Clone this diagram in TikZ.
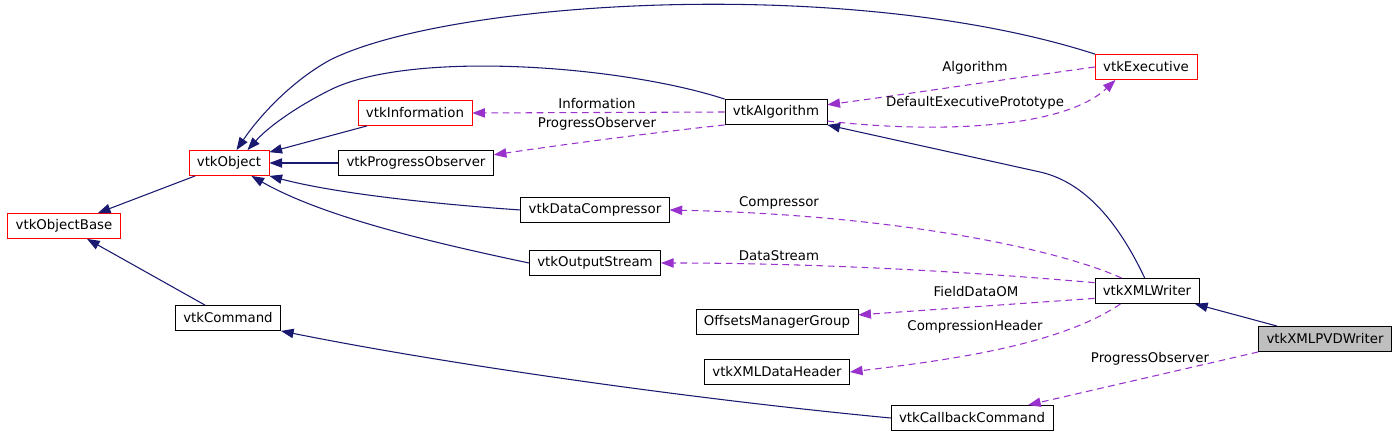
\documentclass[tikz,border=0pt]{standalone}
\usepackage{fontspec}
\setmainfont{DejaVu Sans}
\usetikzlibrary{arrows.meta}
\definecolor{EdgeBlue}{RGB}{25,25,112}
\definecolor{EdgePurple}{RGB}{153,50,204}
\definecolor{FocusGray}{RGB}{191,191,191}
\tikzset{
  cls/.style={draw=black,fill=white,minimum height=19pt,inner xsep=6pt,
    inner ysep=0pt,font=\fontsize{10}{12}\selectfont},
  redcls/.style={cls,draw=red},
  focus/.style={cls,fill=FocusGray},
  inherit/.style={-{Triangle[length=9.5pt,width=7pt]},EdgeBlue,line width=0.8pt},
  member/.style={-{Triangle[length=9.5pt,width=7pt]},EdgePurple,line width=0.8pt,
    dash pattern=on 5pt off 3.5pt},
  lbl/.style={font=\fontsize{10}{12}\selectfont,inner sep=1pt}
}
\begin{document}
\begin{tikzpicture}[x=0.75pt,y=-0.75pt]
\useasboundingbox (0,0) rectangle (1400,439);

\node[redcls] (base) at (64,226) {vtkObjectBase};
\node[redcls] (obj) at (229,163) {vtkObject};
\node[cls] (cmd) at (228,318) {vtkCommand};
\node[redcls] (info) at (415,113) {vtkInformation};
\node[cls] (prog) at (416,163) {vtkProgressObserver};
\node[cls] (comp) at (595,210) {vtkDataCompressor};
\node[cls] (ostr) at (595,263) {vtkOutputStream};
\node[cls] (omg) at (777,322) {OffsetsManagerGroup};
\node[cls] (hdr) at (777,372) {vtkXMLDataHeader};
\node[cls] (algo) at (776,112) {vtkAlgorithm};
\node[redcls] (exe) at (1146,67) {vtkExecutive};
\node[cls] (xmlw) at (1147,291) {vtkXMLWriter};
\node[cls] (cb) at (972,418) {vtkCallbackCommand};
\node[focus] (pvd) at (1325,339) {vtkXMLPVDWriter};

% base classes
\draw[inherit] (obj) -- (base);
\draw[inherit] (cmd) -- (base);
\draw[inherit] (info) -- (obj);
\draw[inherit] (prog) -- (obj);
\draw[inherit] (comp.west) .. controls (420,203) and (330,192) .. (obj.south east);
\draw[inherit] (ostr.west) .. controls (420,240) and (320,215) .. (obj.-30);
\draw[inherit] (algo.north west) .. controls (620,65) and (410,50) .. (330,90)
  .. controls (300,105) and (270,125) .. (obj.35);
\draw[inherit] (exe.north west) .. controls (850,-25) and (450,0) .. (330,60)
  .. controls (290,82) and (258,118) .. (obj.60);
\draw[inherit] (xmlw.100) .. controls (1115,215) and (1080,181) .. (1040,172) -- (algo.south east);
\draw[inherit] (cb.west) .. controls (700,400) and (450,365) .. (cmd.south east);
\draw[inherit] (pvd) -- (xmlw);

% members
\draw[member] (algo.west) -- (info.east);
\node[lbl] (lInfo) at (597,104) {Information};
\draw[member] (algo.south west) .. controls (650,133) and (560,145) .. (prog.6);
\node[lbl] (lProg) at (597,124) {ProgressObserver};
\draw[member] (exe.west) .. controls (1000,80) and (900,95) .. (algo.8);
\node[lbl] (lAlgo) at (975,68) {Algorithm};
\draw[member] (algo.-10) .. controls (920,132) and (1060,132) .. (exe.-157);
\node[lbl] (lDef) at (975,103) {DefaultExecutivePrototype};
\draw[member] (xmlw.153) .. controls (1060,250) and (900,215) .. (comp.east);
\node[lbl] (lComp) at (779,203) {Compressor};
\draw[member] (xmlw.171) .. controls (950,270) and (800,263) .. (ostr.east);
\node[lbl] (lData) at (779,256) {DataStream};
\draw[member] (xmlw.188) -- (omg.5);
\node[lbl] (lField) at (976,292) {FieldDataOM};
\draw[member] (xmlw.206) .. controls (1060,345) and (950,360) .. (hdr.east);
\node[lbl] (lHdr) at (975,327) {CompressionHeader};
\draw[member] (pvd.south west) -- (cb.13);
\node[lbl] (lObs) at (1150,359) {ProgressObserver};

\end{tikzpicture}
\end{document}
